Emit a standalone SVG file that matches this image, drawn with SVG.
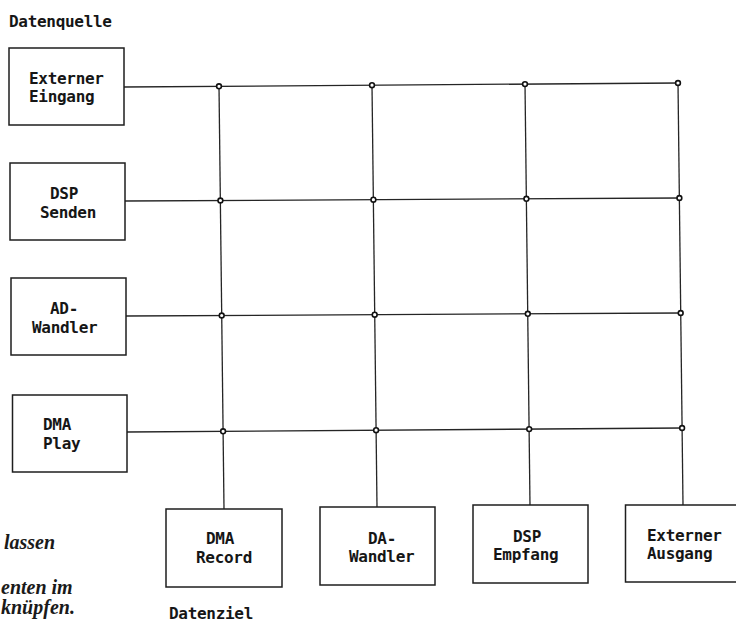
<svg xmlns="http://www.w3.org/2000/svg" width="736" height="623" viewBox="0 0 736 623">
<style>
.bg{fill:#ffffff}
.box{fill:#ffffff;stroke:#1e1e1e;stroke-width:1.5}
.ln{fill:none;stroke:#252525;stroke-width:1.3}
.dot{fill:#ffffff;stroke:#111111;stroke-width:1.6}
.t{font-family:"DejaVu Sans Mono","Liberation Mono",monospace;font-weight:bold;font-size:16px;letter-spacing:-0.3px;fill:#161616}
.it{font-family:"Liberation Serif","Times New Roman",serif;font-style:italic;font-weight:bold;font-size:20px;fill:#1a1a1a}
</style>
<rect class="bg" x="0" y="0" width="736" height="623"/>
<text class="t" x="9" y="27">Datenquelle</text>
<text class="t" x="169" y="619">Datenziel</text>
<text class="it" x="4" y="549">lassen</text>
<text class="it" x="1" y="594">enten im</text>
<text class="it" x="1" y="614">knüpfen.</text>
<g id="connectors">
<line class="ln" x1="124" y1="87" x2="678" y2="83"/>
<line class="ln" x1="125" y1="201" x2="679.5" y2="198"/>
<line class="ln" x1="126" y1="316" x2="681" y2="313"/>
<line class="ln" x1="127" y1="432" x2="682" y2="428"/>
<line class="ln" x1="219" y1="86.3" x2="224" y2="509"/>
<line class="ln" x1="372" y1="85.2" x2="377" y2="507"/>
<line class="ln" x1="525" y1="84.1" x2="530" y2="505"/>
<line class="ln" x1="678" y1="83" x2="683" y2="505"/>
<circle class="dot" cx="219" cy="86.3" r="2.4"/>
<circle class="dot" cx="372" cy="85.2" r="2.4"/>
<circle class="dot" cx="525" cy="84.1" r="2.4"/>
<circle class="dot" cx="678" cy="83" r="2.4"/>
<circle class="dot" cx="220.4" cy="200.5" r="2.4"/>
<circle class="dot" cx="373.4" cy="199.7" r="2.4"/>
<circle class="dot" cx="526.4" cy="198.8" r="2.4"/>
<circle class="dot" cx="679.4" cy="198" r="2.4"/>
<circle class="dot" cx="221.7" cy="315.5" r="2.4"/>
<circle class="dot" cx="374.7" cy="314.7" r="2.4"/>
<circle class="dot" cx="527.8" cy="313.8" r="2.4"/>
<circle class="dot" cx="680.7" cy="313" r="2.4"/>
<circle class="dot" cx="223.1" cy="431.3" r="2.4"/>
<circle class="dot" cx="376.1" cy="430.2" r="2.4"/>
<circle class="dot" cx="529.2" cy="429.1" r="2.4"/>
<circle class="dot" cx="682.1" cy="428" r="2.4"/>
</g>
<g id="externer-eingang">
<rect class="box" x="9" y="48" width="115" height="77"/>
<text class="t" x="29" y="84">Externer</text>
<text class="t" x="29" y="102">Eingang</text>
</g>
<g id="dsp-senden">
<rect class="box" x="10" y="163" width="115" height="77"/>
<text class="t" x="50" y="199">DSP</text>
<text class="t" x="40" y="218">Senden</text>
</g>
<g id="ad-wandler">
<rect class="box" x="11" y="278" width="115" height="77"/>
<text class="t" x="50" y="314">AD-</text>
<text class="t" x="32" y="333">Wandler</text>
</g>
<g id="dma-play">
<rect class="box" x="12.5" y="395" width="114.5" height="77"/>
<text class="t" x="43" y="430">DMA</text>
<text class="t" x="43" y="449">Play</text>
</g>
<g id="dma-record">
<rect class="box" x="166" y="509" width="116" height="78"/>
<text class="t" x="206" y="544">DMA</text>
<text class="t" x="196" y="563">Record</text>
</g>
<g id="da-wandler">
<rect class="box" x="320" y="507" width="115" height="78"/>
<text class="t" x="368" y="544">DA-</text>
<text class="t" x="349" y="562">Wandler</text>
</g>
<g id="dsp-empfang">
<rect class="box" x="473" y="505" width="115" height="78"/>
<text class="t" x="513" y="542">DSP</text>
<text class="t" x="493" y="560">Empfang</text>
</g>
<g id="externer-ausgang">
<rect class="box" x="625.5" y="505" width="116" height="77"/>
<text class="t" x="647" y="541">Externer</text>
<text class="t" x="647" y="559">Ausgang</text>
</g>
</svg>
